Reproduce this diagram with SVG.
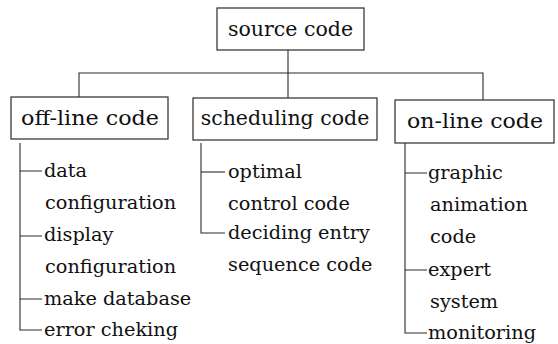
<svg xmlns="http://www.w3.org/2000/svg" width="558" height="344" viewBox="0 0 558 344">
  <style>
    .box { fill: #ffffff; stroke: #2a2a2a; stroke-width: 1.2; }
    .wire { fill: none; stroke: #2a2a2a; stroke-width: 1.1; }
    .head { font-family: "DejaVu Serif", "Liberation Serif", serif; font-size: 20.5px; fill: #111111; }
    .item { font-family: "DejaVu Serif", "Liberation Serif", serif; font-size: 19.3px; fill: #111111; }
  </style>
  <rect width="558" height="344" fill="#ffffff"/>

  <!-- tree connectors -->
  <g id="connectors" class="wire">
    <path d="M288,50 V98"/>
    <path d="M79,97 V73 H483 V100"/>
    <!-- off-line branch -->
    <path d="M20,143 V330 H42"/>
    <path d="M20,171 H42 M20,236 H42 M20,299 H42"/>
    <!-- scheduling branch -->
    <path d="M201,143 V233 H225"/>
    <path d="M201,172 H225"/>
    <!-- on-line branch -->
    <path d="M405,143 V333 H427"/>
    <path d="M405,173 H427 M405,270 H427"/>
  </g>

  <g id="source-code">
    <rect class="box" x="217" y="8" width="147" height="42"/>
    <text class="head" x="290.5" y="36" text-anchor="middle">source code</text>
  </g>

  <g id="off-line-code">
    <rect class="box" x="11" y="97" width="157" height="42"/>
    <text class="head" x="21" y="125" textLength="138" lengthAdjust="spacingAndGlyphs">off-line code</text>
    <text class="item" x="44" y="177">data</text>
    <text class="item" x="45" y="209">configuration</text>
    <text class="item" x="44" y="241">display</text>
    <text class="item" x="45" y="273">configuration</text>
    <text class="item" x="44" y="305">make database</text>
    <text class="item" x="44" y="336">error cheking</text>
  </g>

  <g id="scheduling-code">
    <rect class="box" x="193" y="98" width="184" height="42"/>
    <text class="head" x="285" y="125" text-anchor="middle">scheduling code</text>
    <text class="item" x="228" y="178">optimal</text>
    <text class="item" x="228" y="210">control code</text>
    <text class="item" x="228" y="239">deciding entry</text>
    <text class="item" x="228" y="271">sequence code</text>
  </g>

  <g id="on-line-code">
    <rect class="box" x="395" y="100" width="159" height="43"/>
    <text class="head" x="407" y="128" textLength="136" lengthAdjust="spacingAndGlyphs">on-line code</text>
    <text class="item" x="428" y="179">graphic</text>
    <text class="item" x="430" y="211">animation</text>
    <text class="item" x="430" y="243">code</text>
    <text class="item" x="428" y="276">expert</text>
    <text class="item" x="430" y="308">system</text>
    <text class="item" x="428" y="339">monitoring</text>
  </g>
</svg>
